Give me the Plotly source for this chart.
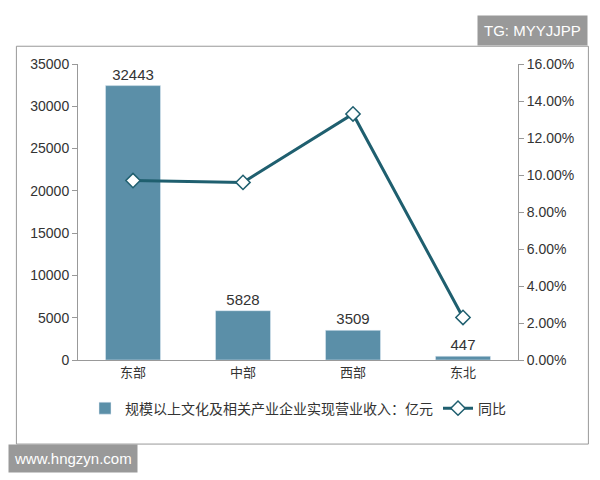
import plotly.graph_objects as go

regions = ["东部", "中部", "西部", "东北"]
revenue = [32443, 5828, 3509, 447]
growth = [0.097, 0.096, 0.133, 0.023]

bar_name = "规模以上文化及相关产业企业实现营业收入：亿元"
line_name = "同比"

fig = go.Figure()
fig.add_trace(go.Bar(
    x=regions, y=revenue, name=bar_name, marker_color="#5b8fa8",
    text=[str(v) for v in revenue], textposition="outside",
    textfont=dict(size=15, color="#333", family="Liberation Sans"), width=0.5, cliponaxis=False,
))
fig.add_trace(go.Scatter(
    x=regions, y=growth, name=line_name, yaxis="y2", mode="lines+markers",
    line=dict(color="#1f5f6f", width=3),
    marker=dict(symbol="diamond", size=11, color="white", line=dict(color="#1f5f6f", width=1.5)),
))

fig.update_layout(
    width=600, height=480,
    margin=dict(l=70, r=90, t=56, b=128),
    paper_bgcolor="white", plot_bgcolor="white",
    font=dict(family="Noto Sans CJK SC", size=13, color="#333"),
    showlegend=True,
    legend=dict(orientation="h", x=0.5, xanchor="center", y=-0.11, yanchor="top",
                font=dict(size=14)),
    xaxis=dict(showline=True, linecolor="#999", ticks=""),
    yaxis=dict(range=[0, 35000], dtick=5000, tickformat="d", showgrid=False, showline=True,
               linecolor="#999", ticks="outside", tickcolor="#999",
               tickfont=dict(family="Liberation Sans", size=14)),
    yaxis2=dict(range=[0, 0.16], dtick=0.02, tickformat=".2%", overlaying="y",
                side="right", showgrid=False, showline=True, linecolor="#999",
                ticks="outside", tickcolor="#999",
                tickfont=dict(family="Liberation Sans", size=14)),
    shapes=[dict(type="rect", xref="paper", yref="paper", x0=-0.14, x1=1.16,
                 y0=-0.284, y1=1.06, line=dict(color="#999", width=1))],
    annotations=[
        dict(text="TG: MYYJJPP", xref="paper", yref="paper", x=1.16, y=1.06,
             xanchor="right", yanchor="bottom", showarrow=False, bgcolor="#999",
             font=dict(color="white", size=15, family="Liberation Sans"), borderpad=6),
        dict(text="www.hngzyn.com", xref="paper", yref="paper", x=-0.16, y=-0.284,
             xanchor="left", yanchor="top", showarrow=False, bgcolor="#999",
             font=dict(color="white", size=15, family="Liberation Sans"), borderpad=5),
    ],
)

fig.write_html("out.html")
